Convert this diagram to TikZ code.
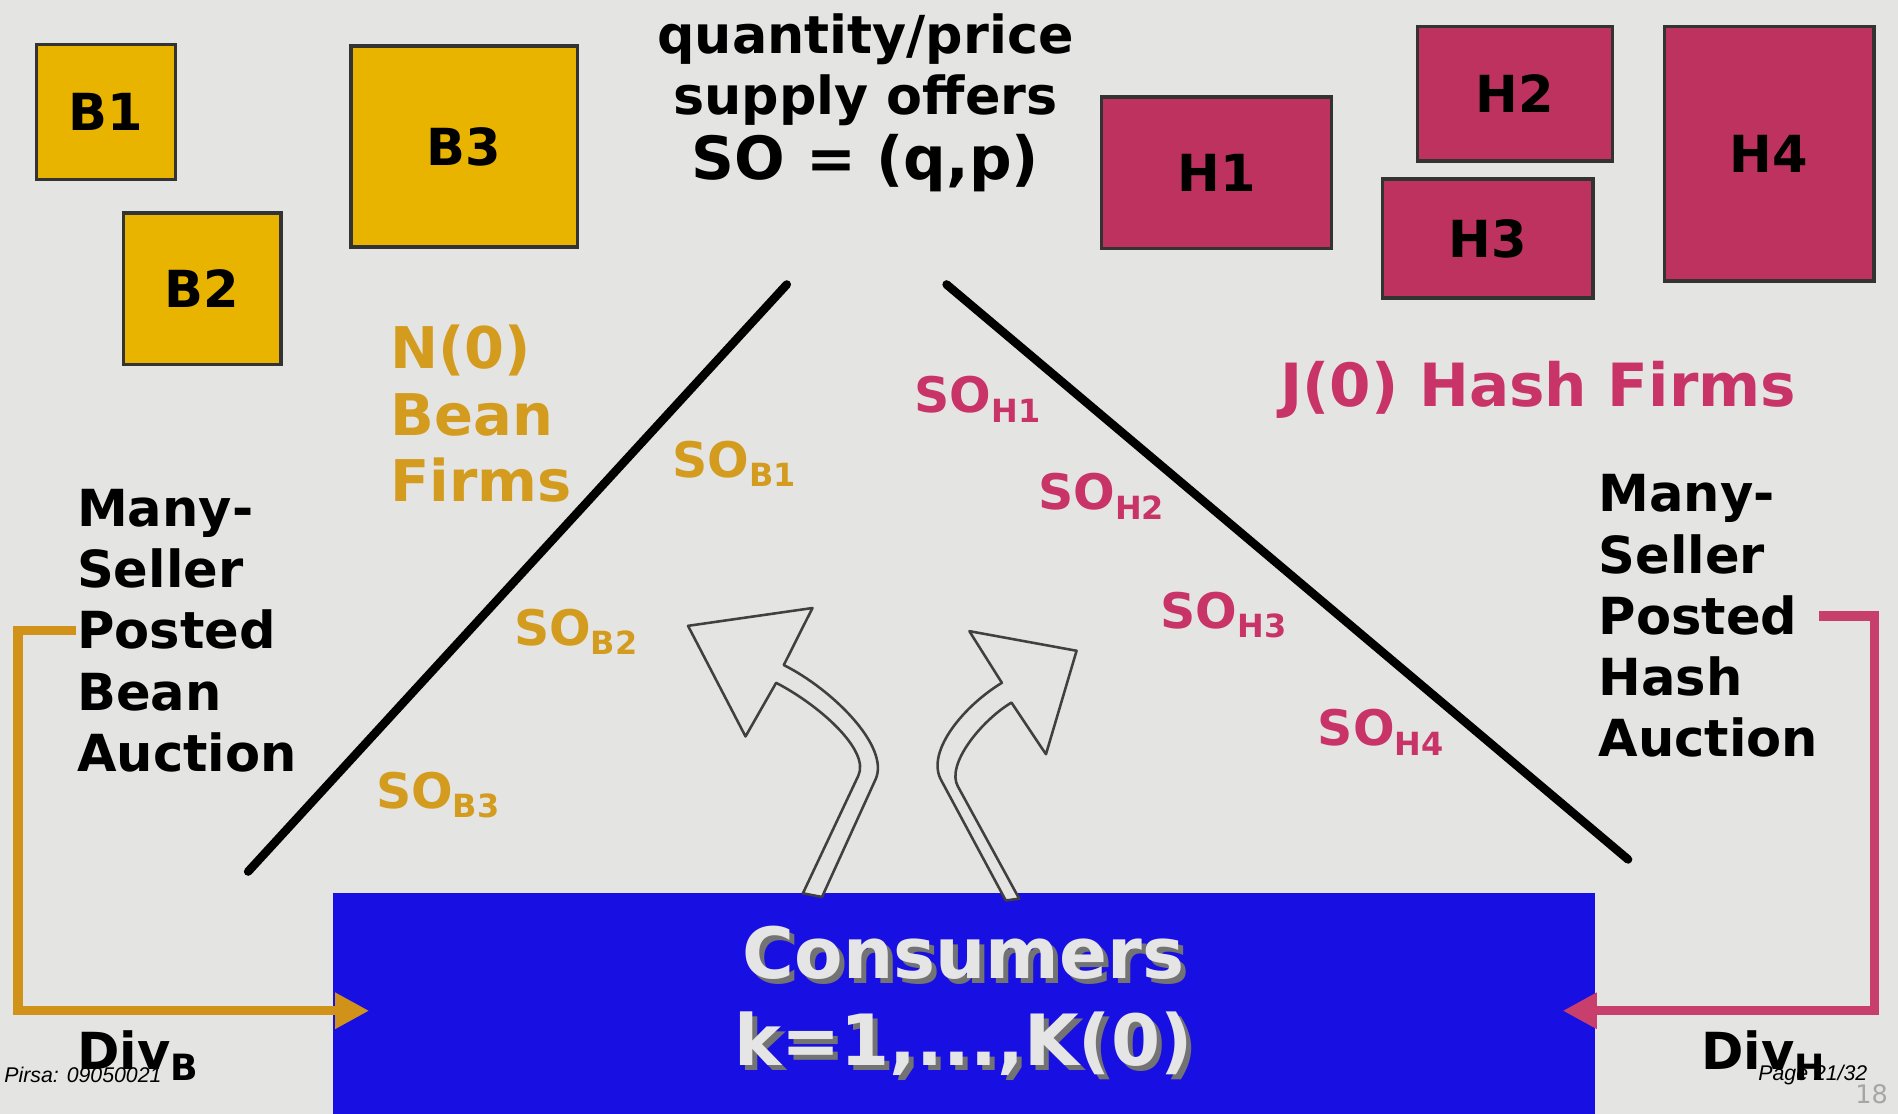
\documentclass[tikz,border=0pt]{standalone}
\usepackage{fontspec}
\setmainfont{DejaVu Sans}
\newfontfamily\pirsafont{Liberation Sans}
\usepackage{xcolor}
\usepackage{tikz}
\usetikzlibrary{
  arrows.meta,
  positioning,
  calc
}

\definecolor{slidebg}{RGB}{228,228,226}
\definecolor{beanfill}{RGB}{232,180,0}
\definecolor{beantext}{RGB}{212,156,30}
\definecolor{beanline}{RGB}{208,146,24}
\definecolor{hashfill}{RGB}{190,50,95}
\definecolor{hashtext}{RGB}{200,52,104}
\definecolor{hashline}{RGB}{200,62,108}
\definecolor{consblue}{RGB}{24,16,226}

\newcommand{\offer}[1]{SO\raisebox{-0.35ex}{\fontsize{7.5}{8}\selectfont #1}}
\newcommand{\shd}[1]{\makebox[0pt][l]{\hspace{1.2pt}\raisebox{-1.2pt}{\textcolor{black!55}{#1}}}#1}

\begin{document}
\begin{tikzpicture}[
  x=0.01cm, y=-0.01cm,
  firm/.style={
    draw=black!80, line width=0.8pt, inner sep=0pt,
    font=\fontsize{12}{14}\selectfont\bfseries
  },
  bean/.style={firm, fill=beanfill},
  hash/.style={firm, fill=hashfill},
  side/.style={line width=2pt, line cap=round},
  offerB/.style={text=beantext, inner sep=0pt, anchor=west,
    font=\fontsize{11.5}{13}\selectfont\bfseries},
  offerH/.style={offerB, text=hashtext},
  auction/.style={align=left, inner sep=0pt,
    font=\fontsize{12}{14.4}\selectfont\bfseries},
  consumers/.style={
    fill=consblue, inner sep=0pt, align=center,
    minimum width=10.42cm, minimum height=1.82cm,
    text=white!90!black, font=\fontsize{16.6}{20.5}\selectfont\bfseries
  },
  consarrow/.style={draw=black!75, line width=0.6pt, fill=slidebg, line join=round},
  beanlink/.style={draw=beanline, line width=2.2pt, -{Triangle[length=8pt,width=8pt]}},
  hashlink/.style={draw=hashline, line width=2.2pt, -{Triangle[length=8pt,width=8pt]}},
  divlabel/.style={inner sep=0pt, anchor=west, font=\fontsize{12}{14}\selectfont\bfseries},
  pirsa/.style={inner sep=0pt, anchor=west, font=\pirsafont\itshape\fontsize{5}{6}\selectfont}
]
  \useasboundingbox[fill=slidebg] (0,0) rectangle (1568,920);

  \node[bean, minimum width=1.15cm, minimum height=1.11cm] (b1) at (87.5,92.5) {B1};
  \node[bean, minimum width=1.30cm, minimum height=1.25cm] (b2) at (167,238.5) {B2};
  \node[bean, minimum width=1.87cm, minimum height=1.66cm] (b3) at (383.5,121) {B3};

  \node[hash, minimum width=1.90cm, minimum height=1.25cm] (h1) at (1005,142.5) {H1};
  \node[hash, minimum width=1.61cm, minimum height=1.11cm] (h2) at (1251.5,77.5) {H2};
  \node[hash, minimum width=1.74cm, minimum height=0.98cm] (h3) at (1229,197) {H3};
  \node[hash, minimum width=1.73cm, minimum height=2.10cm] (h4) at (1461.5,127) {H4};

  \node[align=center, inner sep=0pt, anchor=north, font=\fontsize{12.3}{14.2}\selectfont\bfseries]
    (offers) at (715,11) {quantity/price\\supply offers\\[1pt]{\fontsize{14}{16}\selectfont SO = (q,p)}};

  \node[text=beantext, align=left, inner sep=0pt, anchor=north west,
    font=\fontsize{13.5}{15.6}\selectfont\bfseries] (nbean) at (322,268) {N(0)\\Bean\\Firms};
  \node[text=hashtext, inner sep=0pt, anchor=west,
    font=\fontsize{14}{16}\selectfont\bfseries] (jhash) at (1057,322) {J(0) Hash Firms};

  \draw[side] (650,235) -- (205,720);
  \draw[side] (782,235) -- (1345,710);

  \node[offerB] (sob1) at (555,383) {\offer{B1}};
  \node[offerB] (sob2) at (424,522) {\offer{B2}};
  \node[offerB] (sob3) at (310,657) {\offer{B3}};
  \node[offerH] (soh1) at (755,330) {\offer{H1}};
  \node[offerH] (soh2) at (857,410) {\offer{H2}};
  \node[offerH] (soh3) at (958,508) {\offer{H3}};
  \node[offerH] (soh4) at (1088,605) {\offer{H4}};

  \node[auction, anchor=west] (beanauc) at (63,521) {Many-\\Seller\\Posted\\Bean\\Auction};
  \node[auction, anchor=west] (hashauc) at (1320,509) {Many-\\Seller\\Posted\\Hash\\Auction};

  \node[consumers] (cons) at (796,829) {\shd{Consumers}\\\shd{k=1,...,K(0)}};

  \draw[consarrow] (663.3,738) -- (709.1,640.8)
    .. controls +(10,-21) and +(35,18) .. (641.2,564.1)
    -- (615.9,608.4) -- (568.4,517) -- (671.2,502.3) -- (647.5,549.4)
    .. controls +(40,20) and +(12,-27) .. (723.4,643.7) -- (679.1,741) -- cycle;
  \draw[consarrow] (830.9,743.9) -- (777.1,643.7)
    .. controls +(-12,-24) and +(-30,18) .. (827.7,564.1)
    -- (800.8,521.4) -- (889.4,537.6) -- (864.1,623.1) -- (835.6,580.4)
    .. controls +(-25,15) and +(-10,-18) .. (791.3,649.6) -- (842,742.4) -- cycle;

  \coordinate (divbin) at (305,835);
  \coordinate (divhin) at (1291,835);
  \draw[beanlink] (beanauc.west) -- ++(-48,0) |- (divbin);
  \draw[hashlink] (hashauc.east) -- ++(46,0) |- (divhin);

  \node[divlabel] (divb) at (63,872) {Div\raisebox{-0.4ex}{\fontsize{8.5}{9}\selectfont B}};
  \node[divlabel] (divh) at (1405,872) {Div\raisebox{-0.4ex}{\fontsize{8.5}{9}\selectfont H}};

  \node[pirsa] (pirsa) at (3,888) {Pirsa: 09050021};
  \node[pirsa] (page) at (1452,888) {Page 21/32};
  \node[inner sep=0pt, anchor=west, text=black!35, font=\fontsize{6}{7}\selectfont] (slideno) at (1532,904) {18};
\end{tikzpicture}
\end{document}
